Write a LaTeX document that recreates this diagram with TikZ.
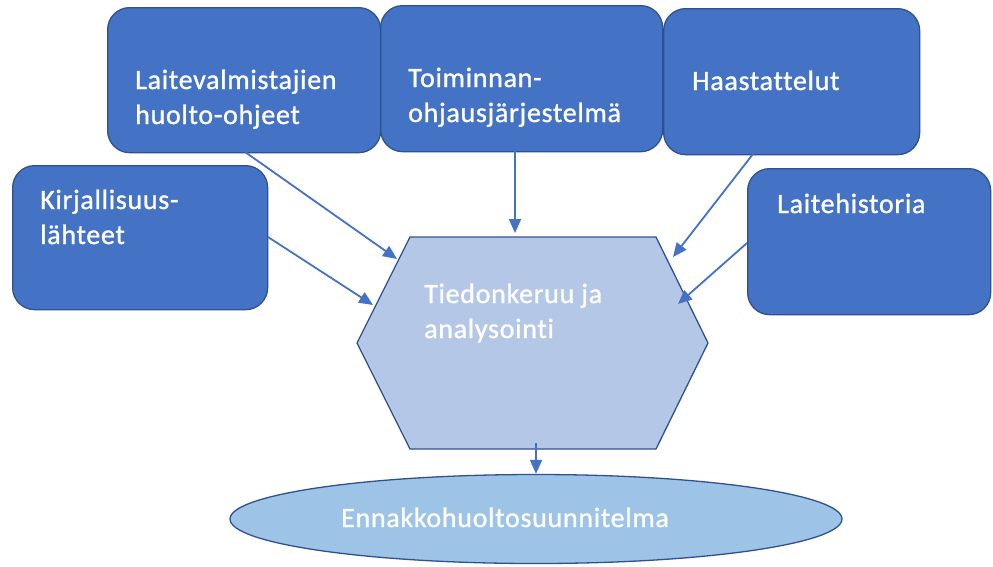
\documentclass[tikz,border=0pt]{standalone}
\usepackage{fontspec}
\setmainfont{Carlito}[Ligatures=NoCommon, LetterSpace=2.5, FakeBold=1]
\usetikzlibrary{arrows.meta,shapes.geometric}
\definecolor{boxblue}{HTML}{4472C4}
\definecolor{edgeblue}{HTML}{2F528F}
\definecolor{hexfill}{HTML}{B4C7E7}
\definecolor{ellfill}{HTML}{9DC3E6}
\begin{document}
\begin{tikzpicture}[x=1pt,y=-1pt,
  srcbox/.style={draw=edgeblue, line width=1.3pt, fill=boxblue, rounded corners=22pt,
                 inner sep=0pt, anchor=north west},
  lbl/.style={text=white, inner sep=0pt, anchor=base west,
              font=\fontsize{28}{34}\selectfont},
  arr/.style={draw=boxblue, line width=1.8pt, -{Triangle[length=14pt,width=12pt]}}]
\useasboundingbox (0,0) rectangle (993,566);
\fill[white] (0,0) rectangle (993,566);

% source boxes
\node[srcbox, minimum width=273pt, minimum height=145pt] (valm) at (107,7) {};
\node[srcbox, minimum width=282pt, minimum height=146pt] (toim) at (380,5) {};
\node[srcbox, minimum width=256pt, minimum height=146pt] (haas) at (663,8) {};
\node[srcbox, minimum width=255pt, minimum height=144pt] (kirj) at (12,165) {};
\node[srcbox, minimum width=243pt, minimum height=146pt] (hist) at (747,168) {};

% hexagon
\coordinate (hL) at (357,343);
\coordinate (hTL) at (410,237);
\coordinate (hTR) at (656,237);
\coordinate (hR) at (708,343);
\coordinate (hBR) at (656,449);
\coordinate (hBL) at (410,449);
\filldraw[fill=hexfill, draw=edgeblue, line width=1.3pt]
  (hL) -- (hTL) -- (hTR) -- (hR) -- (hBR) -- (hBL) -- cycle;

% ellipse
\node[ellipse, draw=edgeblue, line width=1.3pt, fill=ellfill,
      minimum width=612pt, minimum height=89pt, inner sep=0pt] (plan) at (536,519) {};

% labels
\node[lbl] (t1a) at (135,89) {Laitevalmistajien};
\node[lbl] (t1b) at (135,124) {huolto-ohjeet};
\node[lbl] (t2a) at (408,87) {Toiminnan-};
\node[lbl] (t2b) at (408,122) {ohjausjärjestelmä};
\node[lbl] (t3a) at (692,90) {Haastattelut};
\node[lbl] (t4a) at (40,209) {Kirjallisuus-};
\node[lbl] (t4b) at (40,244) {lähteet};
\node[lbl] (t5a) at (777,213) {Laitehistoria};
\node[lbl] (t6a) at (424,303) {Tiedonkeruu ja};
\node[lbl] (t6b) at (424,338) {analysointi};
\node[lbl] (t7a) at (341,527) {Ennakkohuoltosuunnitelma};

% connector end points
\coordinate (s1) at (245,152);  \coordinate (e1) at (397,259);
\coordinate (s2) at (268,237);  \coordinate (e2) at (373,305);
\coordinate (s3) at (515,151);  \coordinate (e3) at (515,233);
\coordinate (s4) at (753,154);  \coordinate (e4) at (673,257);
\coordinate (s5) at (747,243);  \coordinate (e5) at (678,304);
\coordinate (s6) at (536,443);

\draw[arr] (s1) -- (e1);
\draw[arr] (s2) -- (e2);
\draw[arr] (s3) -- (e3);
\draw[arr] (s4) -- (e4);
\draw[arr] (s5) -- (e5);
\draw[arr] (s6) -- (plan.north);
\end{tikzpicture}
\end{document}
